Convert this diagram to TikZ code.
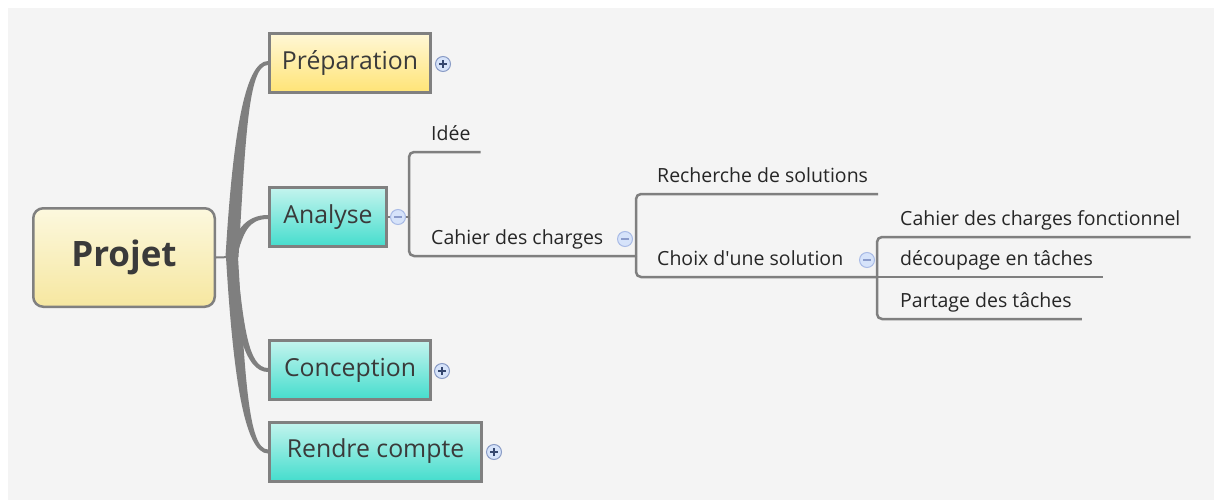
\documentclass[tikz,border=0pt]{standalone}
\usepackage{fontspec}
\setmainfont{Open Sans}
\usetikzlibrary{calc}

\definecolor{bgcol}{HTML}{F4F4F4}
\definecolor{boxline}{HTML}{808080}
\definecolor{treegray}{HTML}{7F7F7F}
\definecolor{projTop}{HTML}{FCF8DE}
\definecolor{projBot}{HTML}{F6E7A0}
\definecolor{prepTop}{HTML}{FFF7D6}
\definecolor{prepBot}{HTML}{FFE476}
\definecolor{tealTop}{HTML}{C4F4EE}
\definecolor{tealBot}{HTML}{45DDCD}
\definecolor{titletext}{HTML}{3A3A3A}
\definecolor{subtext}{HTML}{262626}
\definecolor{btnfill}{HTML}{D6E3FA}
\definecolor{btnring}{HTML}{A9BBE6}
\definecolor{plusring}{HTML}{8A9CC6}
\definecolor{plussign}{HTML}{34466E}
\definecolor{minussign}{HTML}{8B9CCB}

\newcommand{\topicfont}{\fontsize{24.8pt}{28pt}\selectfont}
\newcommand{\subfont}{\fontsize{19.5pt}{23pt}\selectfont}

% tapered branch: #1 root, #2 target, #3 half width at root, #4 1=up -1=down
\newcommand{\branchto}[4]{%
  \fill[treegray] let \p1=(#1), \p2=(#2) in
    (\x1-#3,\y1) .. controls (\x1-#3+7pt,{\y1+0.6*(\y2-\y1)}) and (\x1+12pt,\y2+#4*2pt) .. (\x2,\y2+#4*2pt)
    -- (\x2,\y2-#4*2pt) .. controls (\x1+16pt,\y2-#4*2pt) and (\x1+#3+7pt,{\y1+0.6*(\y2-\y1)}) .. (\x1+#3,\y1) -- cycle;}

\begin{document}
\begin{tikzpicture}[x=1pt,y=-1pt,
  topic/.style={draw=boxline,line width=3pt,minimum height=59pt,inner sep=0pt,text=titletext,font=\topicfont},%main topics
  yellowtopic/.style={topic,top color=prepTop,bottom color=prepBot},
  tealtopic/.style={topic,top color=tealTop,bottom color=tealBot},
  centraltopic/.style={draw=boxline,line width=2.5pt,rounded corners=10pt,minimum width=181.5pt,minimum height=98.5pt,
                       top color=projTop,bottom color=projBot,text=titletext,font=\fontsize{35pt}{40pt}\selectfont\bfseries},
  subtopic/.style={anchor=south west,inner xsep=0pt,inner ysep=6pt,text depth=5pt,text=subtext,font=\subfont},
  treeline/.style={draw=treegray,line width=2.5pt,rounded corners=5pt},
  togglebtn/.style={circle,minimum size=15pt,inner sep=0pt,fill=btnfill,line width=1pt},
  expand/.style={togglebtn,draw=plusring,path picture={%plus sign
      \draw[plussign,line width=1.4pt] ([xshift=-4pt]path picture bounding box.center) -- ([xshift=4pt]path picture bounding box.center)
      ([yshift=-4pt]path picture bounding box.center) -- ([yshift=4pt]path picture bounding box.center);}},
  collapse/.style={togglebtn,draw=btnring,path picture={%minus sign
      \draw[minussign,line width=1.4pt] ([xshift=-4pt]path picture bounding box.center) -- ([xshift=4pt]path picture bounding box.center);}}
  ]
\useasboundingbox (0,0) rectangle (1214,500);
\fill[white] (0,0) rectangle (1214,500);
\fill[bgcol] (8,8) rectangle (1214,500);

% main topics
\coordinate (root) at (232,257);
\node[yellowtopic,minimum width=161pt] (prep) at (350,63) {Préparation};
\node[tealtopic,minimum width=117pt] (analyse) at (328,217) {Analyse};
\node[tealtopic,minimum width=161pt] (concep) at (350,370) {Conception};
\node[tealtopic,minimum width=212pt] (rendre) at (375.5,451.5) {Rendre compte};

\branchto{root}{prep.west}{6.5pt}{1}
\branchto{root}{analyse.west}{4.5pt}{1}
\branchto{root}{concep.west}{4.5pt}{-1}
\branchto{root}{rendre.west}{6pt}{-1}

\node[centraltopic] (projet) at (124,257.5) {Projet};
\draw[treegray,line width=2pt] (projet.east) -- (root);

\node[expand] (pPrep) at (443,64) {};
\node[expand] (pConcep) at (442,371) {};
\node[expand] (pRendre) at (494,452) {};

% Analyse subtree
\node[collapse] (mAna) at (398,217) {};
\coordinate (jAna) at (409,217);
\draw[treeline] (analyse.east) -- (mAna) -- (jAna);
\node[subtopic] (idee) at (431,152) {Idée};
\node[subtopic] (cdc) at (431,256) {Cahier des charges};
\draw[treeline] (jAna) |- ([xshift=10pt]idee.south east);
\coordinate (jCdc) at (636,256);
\draw[treeline] (jAna) |- (cdc.south west) -- (jCdc);
\node[collapse] (mCdc) at (625,239) {};

\node[subtopic] (rech) at (657,194) {Recherche de solutions};
\node[subtopic] (choix) at (657,277) {Choix d\textquotesingle une solution};
\draw[treeline] (jCdc) |- ([xshift=10pt]rech.south east);
\coordinate (jChoix) at (877,277);
\draw[treeline] (jCdc) |- (choix.south west) -- (jChoix);
\node[collapse] (mChoix) at (867,260) {};

\node[subtopic] (cdcf) at (900,237) {Cahier des charges fonctionnel};
\node[subtopic] (decoup) at (900,277) {découpage en tâches};
\node[subtopic] (partage) at (900,319) {Partage des tâches};
\draw[treeline] (jChoix) |- ([xshift=10pt]cdcf.south east);
\draw[treeline] (jChoix) -- ([xshift=10pt]decoup.south east);
\draw[treeline] (jChoix) |- ([xshift=10pt]partage.south east);
\end{tikzpicture}
\end{document}
